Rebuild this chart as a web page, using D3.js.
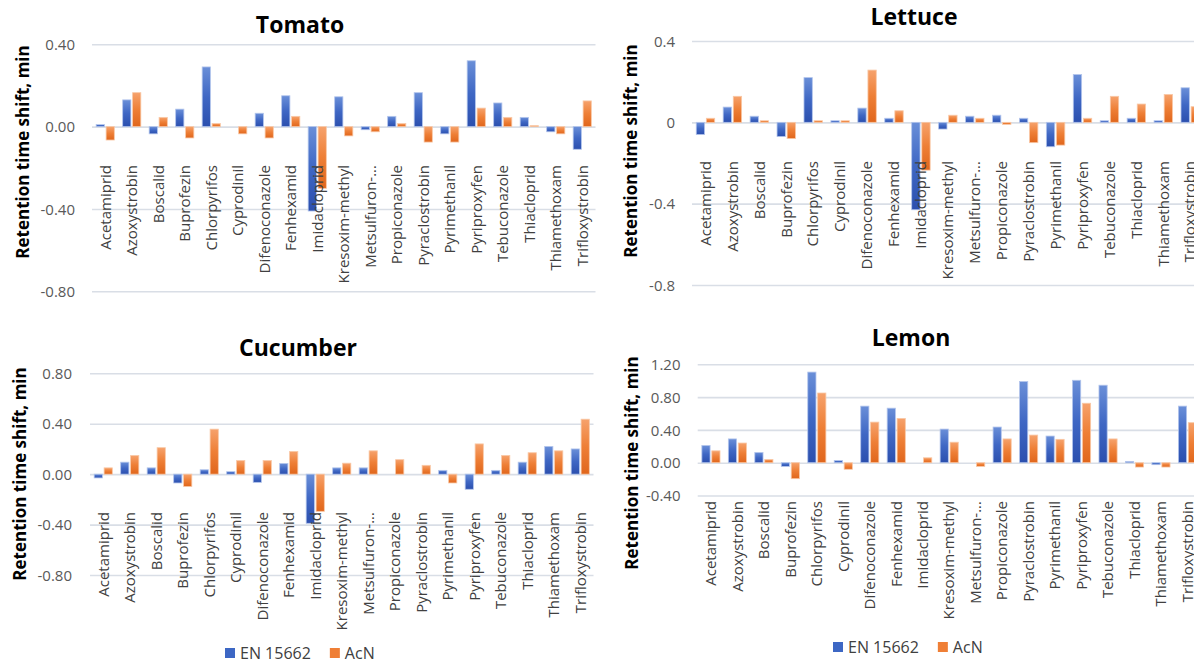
<!DOCTYPE html>
<html>
<head>
<meta charset="utf-8">
<script src="https://cdn.jsdelivr.net/npm/d3@7"></script>
<style>
  html, body { margin: 0; padding: 0; background: #fff; }
  svg { display: block; }
  text { font-family: "Open Sans", "Noto Sans", sans-serif; }
</style>
</head>
<body>
<svg id="chart" width="1194" height="664"></svg>
<script>
// ---------- DATA ----------
const categories = ["Acetamiprid","Azoxystrobin","Boscalid","Buprofezin","Chlorpyrifos","Cyprodinil",
  "Difenoconazole","Fenhexamid","Imidacloprid","Kresoxim-methyl","Metsulfuron-...","Propiconazole",
  "Pyraclostrobin","Pyrimethanil","Pyriproxyfen","Tebuconazole","Thiacloprid","Thiamethoxam","Trifloxystrobin"];
const seriesNames = ["EN 15662", "AcN"];

const tomatoEN  = [0.01, 0.13, -0.035, 0.085, 0.29, 0, 0.065, 0.15, -0.41, 0.145, -0.015, 0.05, 0.165, -0.035, 0.32, 0.115, 0.045, -0.025, -0.11];
const tomatoAcN = [-0.065, 0.165, 0.045, -0.055, 0.015, -0.035, -0.055, 0.05, -0.30, -0.045, -0.025, 0.015, -0.075, -0.075, 0.09, 0.045, 0.005, -0.035, 0.125];

const lettuceEN  = [-0.06, 0.075, 0.03, -0.07, 0.22, 0.008, 0.07, 0.02, -0.43, -0.033, 0.03, 0.035, 0.02, -0.12, 0.235, 0.008, 0.02, 0.008, 0.17];
const lettuceAcN = [0.02, 0.128, 0.008, -0.08, 0.008, 0.008, 0.257, 0.057, -0.235, 0.035, 0.02, -0.01, -0.10, -0.112, 0.02, 0.128, 0.09, 0.137, 0.077];

const cucumberEN  = [-0.03, 0.095, 0.05, -0.07, 0.035, 0.02, -0.065, 0.085, -0.39, 0.05, 0.05, 0, 0, 0.03, -0.12, 0.03, 0.095, 0.22, 0.2];
const cucumberAcN = [0.05, 0.148, 0.21, -0.098, 0.357, 0.108, 0.108, 0.18, -0.295, 0.087, 0.185, 0.115, 0.07, -0.07, 0.24, 0.148, 0.17, 0.185, 0.436];

const lemonEN  = [0.21, 0.29, 0.125, -0.045, 1.105, 0.028, 0.69, 0.665, 0, 0.41, 0, 0.435, 0.99, 0.325, 1.005, 0.945, 0.016, -0.024, 0.69];
const lemonAcN = [0.145, 0.24, 0.04, -0.195, 0.85, -0.08, 0.495, 0.54, 0.06, 0.25, -0.045, 0.29, 0.337, 0.285, 0.725, 0.29, -0.053, -0.053, 0.488];

const tomatoTicks   = [0.4, 0, -0.4, -0.8];
const tomatoTickLabels   = ["0.40", "0.00", "-0.40", "-0.80"];
const lettuceTicks  = [0.4, 0, -0.4, -0.8];
const lettuceTickLabels  = ["0.4", "0", "-0.4", "-0.8"];
const cucumberTicks = [0.8, 0.4, 0, -0.4, -0.8];
const cucumberTickLabels = ["0.80", "0.40", "0.00", "-0.40", "-0.80"];
const lemonTicks    = [1.2, 0.8, 0.4, 0, -0.4];
const lemonTickLabels    = ["1.20", "0.80", "0.40", "0.00", "-0.40"];

// ---------- LAYOUT ----------
const panels = [
  { title: "Tomato", en: tomatoEN, acn: tomatoAcN, ticks: tomatoTicks, labels: tomatoTickLabels,
    x0: 92, x1: 595.5, yTop: 44.3, yBot: 291.3, titleX: 300, titleY: 33, yTitleX: 23, yTitleY: 152,
    tickX: 75, catY: 165, legend: null },
  { title: "Lettuce", en: lettuceEN, acn: lettuceAcN, ticks: lettuceTicks, labels: lettuceTickLabels,
    x0: 692, x1: 1203.7, yTop: 41, yBot: 285, titleX: 914, titleY: 25, yTitleX: 631, yTitleY: 151,
    tickX: 675, catY: 161, legend: null },
  { title: "Cucumber", en: cucumberEN, acn: cucumberAcN, ticks: cucumberTicks, labels: cucumberTickLabels,
    x0: 90, x1: 593.5, yTop: 373.3, yBot: 575, titleX: 298, titleY: 356, yTitleX: 20, yTitleY: 474,
    tickX: 72, catY: 512, legend: { x: 225, y: 653 } },
  { title: "Lemon", en: lemonEN, acn: lemonAcN, ticks: lemonTicks, labels: lemonTickLabels,
    x0: 697.7, x1: 1200.7, yTop: 364.3, yBot: 495.5, titleX: 911, titleY: 346, yTitleX: 632, yTitleY: 463,
    tickX: 680.5, catY: 501, legend: { x: 833, y: 647 } }
];

const svg = d3.select("#chart");

const defs = svg.append("defs");
function grad(id, stops) {
  const g = defs.append("linearGradient").attr("id", id)
    .attr("x1", 0).attr("y1", 0).attr("x2", 0).attr("y2", 1);
  stops.forEach(s => g.append("stop").attr("offset", s[0]).attr("stop-color", s[1]));
}
grad("gBlue",   [["0%", "#6a8fd8"], ["50%", "#3f67c4"], ["100%", "#2b4fae"]]);
grad("gOrange", [["0%", "#f6a26c"], ["50%", "#ee7f36"], ["100%", "#e0661c"]]);
const fills   = ["url(#gBlue)", "url(#gOrange)"];
const strokes = ["#b3c5ec", "#f9c8a6"];
const legendColors = ["#3d67c4", "#ef7f36"];

panels.forEach(p => {
  const g = svg.append("g");
  const y = d3.scaleLinear()
    .domain([p.ticks[p.ticks.length - 1], p.ticks[0]])
    .range([p.yBot, p.yTop]);
  const x = d3.scaleBand().domain(categories).range([p.x0, p.x1]).paddingInner(0).paddingOuter(0);
  const xs = d3.scaleBand().domain(seriesNames).range([0, x.bandwidth()])
    .paddingInner(0.173).paddingOuter(0.42);

  // gridlines via axis
  const yAxis = d3.axisLeft(y).tickValues(p.ticks)
    .tickSize(-(p.x1 - p.x0))
    .tickFormat((d, i) => p.labels[i]);
  const ag = g.append("g").attr("transform", `translate(${p.x0},0)`).call(yAxis);
  ag.select(".domain").remove();
  ag.selectAll(".tick line").attr("stroke", "#d9dee6").attr("stroke-width", 1.6);
  ag.selectAll(".tick text")
    .attr("x", p.tickX - p.x0).attr("dx", 0)
    .attr("fill", "#595959").attr("font-size", 15)
    .attr("font-family", "Open Sans, sans-serif")
    .attr("dy", "0.35em");

  // bars
  const data = [];
  categories.forEach((c, i) => {
    data.push({ c, s: 0, v: p.en[i] });
    data.push({ c, s: 1, v: p.acn[i] });
  });
  g.append("g").selectAll("rect").data(data.filter(d => d.v !== 0)).join("rect")
    .attr("x", d => x(d.c) + xs(seriesNames[d.s]))
    .attr("width", xs.bandwidth())
    .attr("y", d => Math.min(y(d.v), y(0)))
    .attr("height", d => Math.abs(y(d.v) - y(0)))
    .attr("fill", d => fills[d.s])
    .attr("stroke", d => strokes[d.s])
    .attr("stroke-width", 0.8);

  // category labels
  g.append("g").selectAll("text").data(categories).join("text")
    .attr("transform", d => `translate(${x(d) + x.bandwidth() / 2},${p.catY}) rotate(-90)`)
    .attr("text-anchor", "end")
    .attr("dy", "0.35em")
    .attr("font-size", 15)
    .attr("fill", "#404040")
    .text(d => d);

  // chart title
  g.append("text").attr("x", p.titleX).attr("y", p.titleY)
    .attr("text-anchor", "middle").attr("font-size", 23).attr("font-weight", "bold")
    .attr("fill", "#000").text(p.title);

  // y-axis title
  g.append("text")
    .attr("transform", `translate(${p.yTitleX},${p.yTitleY}) rotate(-90)`)
    .attr("text-anchor", "middle").attr("dy", "0.35em")
    .attr("font-size", 17).attr("font-weight", "bold").attr("fill", "#000")
    .text("Retention time shift, min");

  // legend
  if (p.legend) {
    const lg = g.append("g").attr("transform", `translate(${p.legend.x},${p.legend.y})`);
    let off = 0;
    seriesNames.forEach((s, i) => {
      lg.append("rect").attr("x", off).attr("y", -5).attr("width", 10).attr("height", 10)
        .attr("fill", legendColors[i]);
      const t = lg.append("text").attr("x", off + 15).attr("y", 0).attr("dy", "0.35em")
        .attr("font-size", 16).attr("fill", "#404040").text(s);
      off += 15 + t.node().getComputedTextLength() + 19;
    });
  }
});
</script>
</body>
</html>
